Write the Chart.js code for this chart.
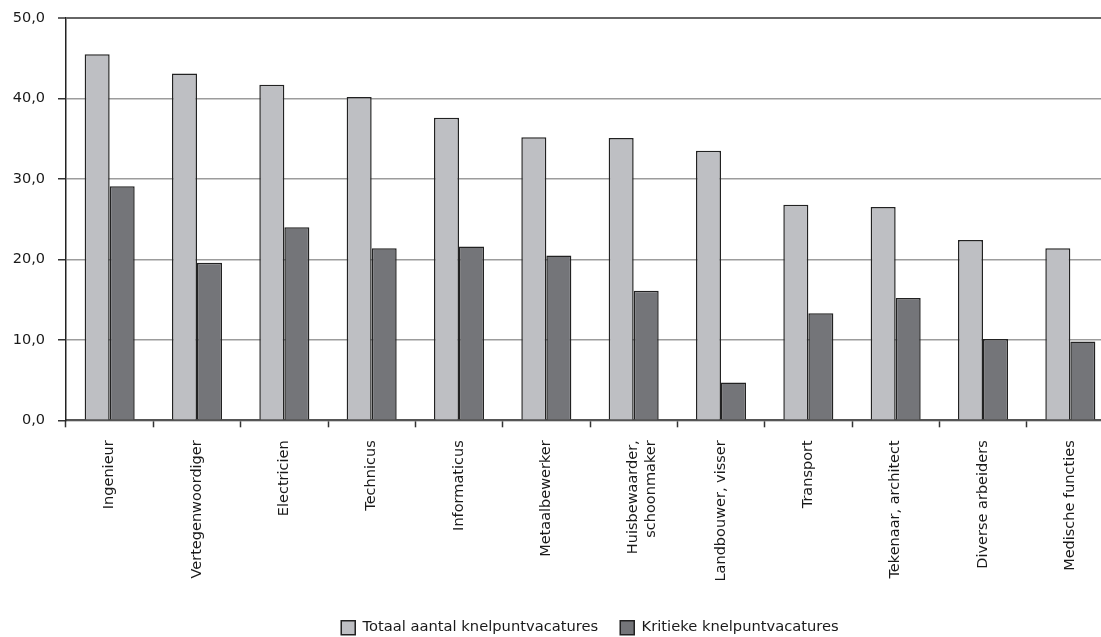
<!DOCTYPE html>
<html>
<head>
<meta charset="utf-8">
<script src="https://cdn.jsdelivr.net/npm/chart.js@4.4.1/dist/chart.umd.min.js"></script>
<style>
  html, body { margin: 0; padding: 0; background: #fff; overflow: hidden; width: 1101px; height: 637px; }
  #wrap { position: absolute; left: 0; top: 0; width: 1180px; height: 645px; }
</style>
</head>
<body>
<div id="wrap"><canvas id="c" width="1180" height="645"></canvas></div>
<script>
const categories = [
  'Ingenieur',
  'Vertegenwoordiger',
  'Electricien',
  'Technicus',
  'Informaticus',
  'Metaalbewerker',
  ['Huisbewaarder,', 'schoonmaker'],
  'Landbouwer, visser',
  'Transport',
  'Tekenaar, architect',
  'Diverse arbeiders',
  'Medische functies'
];
const seriesNames = ['Totaal aantal knelpuntvacatures', 'Kritieke knelpuntvacatures'];
const totaal   = [45.5, 43.1, 41.7, 40.2, 37.6, 35.2, 35.1, 33.5, 26.8, 26.5, 22.4, 21.4];
const kritieke = [29.1, 19.6, 24.0, 21.4, 21.6, 20.5, 16.1, 4.7, 13.3, 15.2, 10.1, 9.8];
const yTicks = [0, 10, 20, 30, 40, 50];

const FONT = "'DejaVu Sans', sans-serif";

new Chart(document.getElementById('c'), {
  type: 'bar',
  data: {
    labels: categories,
    datasets: [
      { label: seriesNames[0], data: totaal, backgroundColor: '#bebfc3', borderColor: '#222', borderWidth: 1.5,
        categoryPercentage: 0.573, barPercentage: 1.0 },
      { label: seriesNames[1], data: kritieke, backgroundColor: '#747579', borderColor: '#222', borderWidth: 1.5,
        categoryPercentage: 0.573, barPercentage: 1.0 }
    ]
  },
  options: {
    responsive: false,
    devicePixelRatio: 1,
    animation: false,
    layout: { padding: { left: 0, right: 66, top: 10, bottom: 0 } },
    plugins: {
      legend: {
        position: 'bottom',
        fullSize: false,
        labels: {
          boxWidth: 14, boxHeight: 14, padding: 22,
          font: { family: FONT, size: 14.7 }, color: '#1a1a1a'
        }
      },
      tooltip: { enabled: false }
    },
    scales: {
      x: {
        offset: true,
        grid: { offset: true, drawOnChartArea: false, tickLength: 7, tickColor: '#333', tickWidth: 1.5 },
        border: { color: '#555', width: 2 },
        ticks: {
          autoSkip: false, maxRotation: 90, minRotation: 90, padding: 13,
          font: { family: FONT, size: 14.5 }, color: '#1a1a1a'
        },
        afterFit(scale) { scale.height = 178; }
      },
      y: {
        min: 0, max: 50,
        afterBuildTicks(scale) { scale.ticks = yTicks.map(v => ({ value: v })); },
        grid: {
          color: (ctx) => ctx.tick && ctx.tick.value === 50 ? '#666' : '#9c9c9c',
          lineWidth: (ctx) => ctx.tick && ctx.tick.value === 50 ? 2 : 1.5,
          tickLength: 8, tickColor: '#333', tickWidth: 1.5
        },
        border: { color: '#222', width: 1.5 },
        ticks: {
          padding: 13,
          font: { family: FONT, size: 14.5, lineHeight: 0.7 }, color: '#1a1a1a',
          callback: (v) => Number(v).toFixed(1).replace('.', ',')
        },
        afterFit(scale) { scale.width = 66; }
      }
    }
  }
});
</script>
</body>
</html>
